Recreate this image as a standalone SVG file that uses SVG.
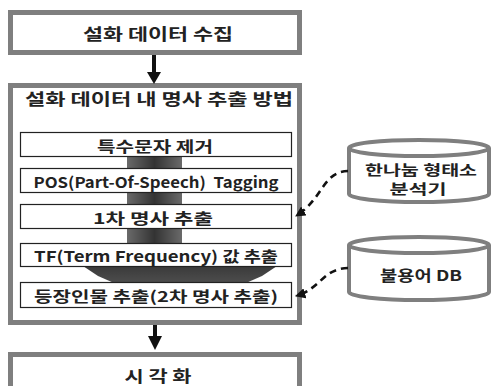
<svg xmlns="http://www.w3.org/2000/svg" width="491" height="386" viewBox="0 0 491 386">
  <defs>
    <linearGradient id="barShade" x1="0" y1="0" x2="1" y2="0">
      <stop offset="0" stop-color="#6a6a6a"/>
      <stop offset="0.5" stop-color="#333333"/>
      <stop offset="1" stop-color="#6a6a6a"/>
    </linearGradient>
    <linearGradient id="headShade" x1="0" y1="0" x2="0" y2="1">
      <stop offset="0" stop-color="#3a3a3a"/>
      <stop offset="1" stop-color="#555555"/>
    </linearGradient>
    <marker id="dashHead" viewBox="0 0 10 10" refX="9" refY="5" markerWidth="4" markerHeight="4" orient="auto">
      <path d="M0,0 L10,5 L0,10 z" fill="#111"/>
    </marker>
  </defs>
  <style>
    .frame { fill: #fff; stroke: #7f7f7f; stroke-width: 5; }
    .step { fill: #fff; stroke: #222; stroke-width: 1.2; }
    .db { fill: #fff; stroke: #7f7f7f; stroke-width: 4; }
    text { font-family: "Noto Sans CJK KR", "Noto Sans", sans-serif; font-weight: 700; fill: #222; text-anchor: middle; dominant-baseline: central; }
    .big { font-size: 16px; }
    .small { font-size: 15px; }
    .dbtext { font-size: 14px; }
    .flow { stroke: #111; stroke-width: 4; fill: none; }
    .dash { stroke: #111; stroke-width: 2.6; fill: none; stroke-dasharray: 7 5; }
  </style>

  <rect width="491" height="386" fill="#fff"/>

  <!-- data collection -->
  <g id="collect">
    <rect class="frame" x="10.5" y="12.5" width="289" height="40"/>
    <text class="big" x="158" y="32.5" textLength="150" lengthAdjust="spacingAndGlyphs">설화 데이터 수집</text>
  </g>

  <!-- noun extraction frame with inner steps -->
  <g id="extract">
    <rect class="frame" x="10.5" y="85.5" width="289" height="237"/>
    <text class="big" x="159" y="98" textLength="268" lengthAdjust="spacingAndGlyphs">설화 데이터 내 명사 추출 방법</text>
    <!-- flow bar behind the steps -->
    <rect x="127" y="156" width="55" height="112" fill="url(#barShade)"/>
    <polygon points="83,266 277,266 262,276 230,290 130,290 98,276" fill="url(#headShade)"/>
  </g>

  <g id="step1">
    <rect class="step" x="20.5" y="132.5" width="271" height="24"/>
    <text class="small" x="155" y="145" textLength="116" lengthAdjust="spacingAndGlyphs">특수문자 제거</text>
  </g>
  <g id="step2">
    <rect class="step" x="20.5" y="168.5" width="271" height="24"/>
    <text class="small" x="156" y="181" textLength="245" lengthAdjust="spacingAndGlyphs" xml:space="preserve">POS(Part-Of-Speech)  Tagging</text>
  </g>
  <g id="step3">
    <rect class="step" x="20.5" y="204.5" width="271" height="24"/>
    <text class="small" x="153" y="217" textLength="120" lengthAdjust="spacingAndGlyphs">1차 명사 추출</text>
  </g>
  <g id="step4">
    <rect class="step" x="20.5" y="243.5" width="271" height="23"/>
    <text class="small" x="156" y="255.5" textLength="244" lengthAdjust="spacingAndGlyphs">TF(Term Frequency) 값 추출</text>
  </g>
  <g id="step5">
    <rect class="step" x="20.5" y="282.5" width="271" height="25"/>
    <text class="small" x="156" y="295.5" textLength="244" lengthAdjust="spacingAndGlyphs">등장인물 추출(2차 명사 추출)</text>
  </g>

  <!-- visualisation -->
  <g id="visual">
    <rect class="frame" x="10.5" y="354.5" width="289" height="50"/>
    <text class="big" x="158" y="375" textLength="67" lengthAdjust="spacingAndGlyphs">시 각 화</text>
  </g>

  <!-- morphological analyser -->
  <g id="analyser">
    <path class="db" d="M349,148 A70,8 0 0 1 489,148 L489,194 A70,8 0 0 1 349,194 Z"/>
    <path class="db" d="M349,148 A70,8 0 0 0 489,148" fill="none"/>
    <text class="dbtext" x="421" y="168.5" textLength="112" lengthAdjust="spacingAndGlyphs">한나눔 형태소</text>
    <text class="dbtext" x="418" y="187.5" textLength="57" lengthAdjust="spacingAndGlyphs">분석기</text>
  </g>

  <!-- stop-word database -->
  <g id="stopwords">
    <path class="db" d="M349,245 A70,8 0 0 1 489,245 L489,292 A70,8 0 0 1 349,292 Z"/>
    <path class="db" d="M349,245 A70,8 0 0 0 489,245" fill="none"/>
    <text class="small" x="421" y="274" textLength="82" lengthAdjust="spacingAndGlyphs">불용어 DB</text>
  </g>

  <g id="connectors">
    <line class="flow" x1="154" y1="55" x2="154" y2="74"/>
    <polygon points="147,72 161,72 154,84" fill="#111"/>
    <line class="flow" x1="155" y1="325" x2="155" y2="338"/>
    <polygon points="148,336 162,336 155,350" fill="#111"/>
    <path class="dash" d="M348,171 C322,172 324,198 296,216" marker-end="url(#dashHead)"/>
    <path class="dash" d="M348,268 C322,269 322,288 296,296" marker-end="url(#dashHead)"/>
  </g>
</svg>
